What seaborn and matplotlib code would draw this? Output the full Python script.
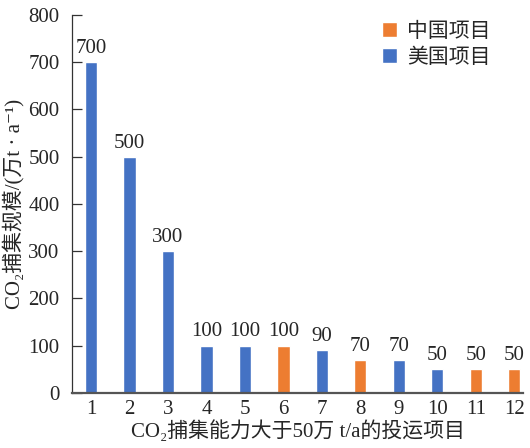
import matplotlib
matplotlib.use("Agg")
import matplotlib.pyplot as plt
import seaborn as sns
import pandas as pd

# 数据
projects = [str(i) for i in range(1, 13)]
capacity = [700, 500, 300, 100, 100, 100, 90, 70, 70, 50, 50, 50]
country = ['美国项目', '美国项目', '美国项目', '美国项目', '美国项目', '中国项目',
           '美国项目', '中国项目', '美国项目', '美国项目', '中国项目', '中国项目']
hue_order = ['中国项目', '美国项目']
colors = {'中国项目': '#ED7D31', '美国项目': '#4472C4'}

df = pd.DataFrame({'project': projects, 'capacity': capacity, 'country': country})

sns.set_style("white")
fonts = ['Liberation Serif', 'Noto Sans CJK SC', 'DejaVu Serif']
plt.rcParams['font.family'] = fonts
fs = 15

fig = plt.figure(figsize=(5.3, 4.48), dpi=100)
ax = fig.add_axes([0.136, 0.123, 0.851, 0.8435])

sns.barplot(data=df, x='project', y='capacity', hue='country', hue_order=hue_order,
            order=projects, palette=colors, dodge=False, width=0.32, ax=ax,
            saturation=1)

for c in ax.containers:
    labels = [f'{int(v)}' if v == v and v > 0 else '' for v in c.datavalues]
    ax.bar_label(c, labels=labels, padding=3, fontsize=fs)

ax.set_ylim(0, 800)
ax.set_yticks(range(0, 801, 100))
ax.set_xlim(-0.49, 11.23)
ax.set_xlabel('CO₂捕集能力大于50万 t/a的投运项目', fontsize=fs, labelpad=1)
ax.set_ylabel('CO₂捕集规模/(万t · a⁻¹)', fontsize=fs, labelpad=3)

for s in ['top', 'right']:
    ax.spines[s].set_visible(False)
ax.spines['left'].set_color('#333333')
ax.spines['left'].set_linewidth(0.9)
ax.spines['bottom'].set_color('#555555')
ax.spines['bottom'].set_linewidth(1.6)

ax.tick_params(axis='y', direction='in', length=7, width=0.9, color='#333333', pad=9,
               left=True, labelsize=fs)
ax.tick_params(axis='x', length=0, pad=5, labelsize=fs)

ax.legend(loc='upper right', bbox_to_anchor=(0.97, 1.03), frameon=False, handlelength=0.7,
          handleheight=0.7, handletextpad=0.5, labelspacing=0.3, fontsize=fs)

fig.savefig('out.png', dpi=100)
